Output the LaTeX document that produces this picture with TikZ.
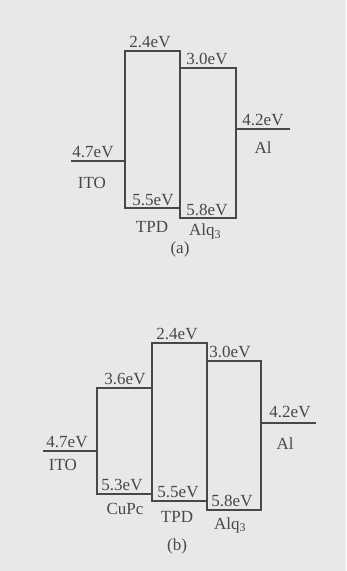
\documentclass[tikz,border=0pt]{standalone}
\usepackage{fontspec}
\setmainfont{Liberation Serif}
\definecolor{paper}{RGB}{232,232,230}
\definecolor{ink}{RGB}{72,72,72}

\begin{document}
\begin{tikzpicture}[x=1pt,y=-1pt,line width=1.3pt,
    lvl/.style={draw=ink},
    lbl/.style={anchor=base,inner sep=0pt,text=ink,font=\fontsize{17}{19}\selectfont}]
  \fill[paper] (0,0) rectangle (346,571);
  \useasboundingbox (0,0) rectangle (346,571);

  % (a)
  \draw[lvl] (125,51) rectangle (180,208);
  \draw[lvl] (180,68) rectangle (236,218);
  \coordinate (itoa1) at (71,161); \coordinate (itoa2) at (125,161);
  \coordinate (ala1) at (236,129); \coordinate (ala2) at (290,129);
  \draw[lvl] (itoa1) -- (itoa2);
  \draw[lvl] (ala1) -- (ala2);
  \node[lbl] (tpdlumoa) at (150,47) {2.4eV};
  \node[lbl] (alqlumoa) at (207,64.5) {3.0eV};
  \node[lbl] (alwfa) at (263,125.5) {4.2eV};
  \node[lbl] (alnamea) at (263,153.5) {Al};
  \node[lbl] (itowfa) at (93,157) {4.7eV};
  \node[lbl] (itonamea) at (92,188) {ITO};
  \node[lbl] (tpdhomoa) at (153,205) {5.5eV};
  \node[lbl] (tpdnamea) at (152,232) {TPD};
  \node[lbl] (alqhomoa) at (207,215) {5.8eV};
  \node[lbl] (alqnamea) at (205,235.5) {Alq\textsubscript{3}};
  \node[lbl] (capa) at (180,253) {(a)};

  % (b)
  \draw[lvl] (97,388) rectangle (152,494);
  \draw[lvl] (152,343) rectangle (207,501);
  \draw[lvl] (207,361) rectangle (261,510);
  \coordinate (itob1) at (43,451); \coordinate (itob2) at (97,451);
  \coordinate (alb1) at (261,423); \coordinate (alb2) at (316,423);
  \draw[lvl] (itob1) -- (itob2);
  \draw[lvl] (alb1) -- (alb2);
  \node[lbl] (cupclumob) at (125,384) {3.6eV};
  \node[lbl] (tpdlumob) at (177,339.5) {2.4eV};
  \node[lbl] (alqlumob) at (230,357) {3.0eV};
  \node[lbl] (alwfb) at (290,417) {4.2eV};
  \node[lbl] (alnameb) at (285,449) {Al};
  \node[lbl] (itowfb) at (67,447) {4.7eV};
  \node[lbl] (itonameb) at (63,470) {ITO};
  \node[lbl] (cupchomob) at (122,490) {5.3eV};
  \node[lbl] (cupcnameb) at (125,514) {CuPc};
  \node[lbl] (tpdhomob) at (178,497) {5.5eV};
  \node[lbl] (tpdnameb) at (177,522) {TPD};
  \node[lbl] (alqhomob) at (232,506.5) {5.8eV};
  \node[lbl] (alqnameb) at (230,529) {Alq\textsubscript{3}};
  \node[lbl] (capb) at (177,550) {(b)};
\end{tikzpicture}
\end{document}
